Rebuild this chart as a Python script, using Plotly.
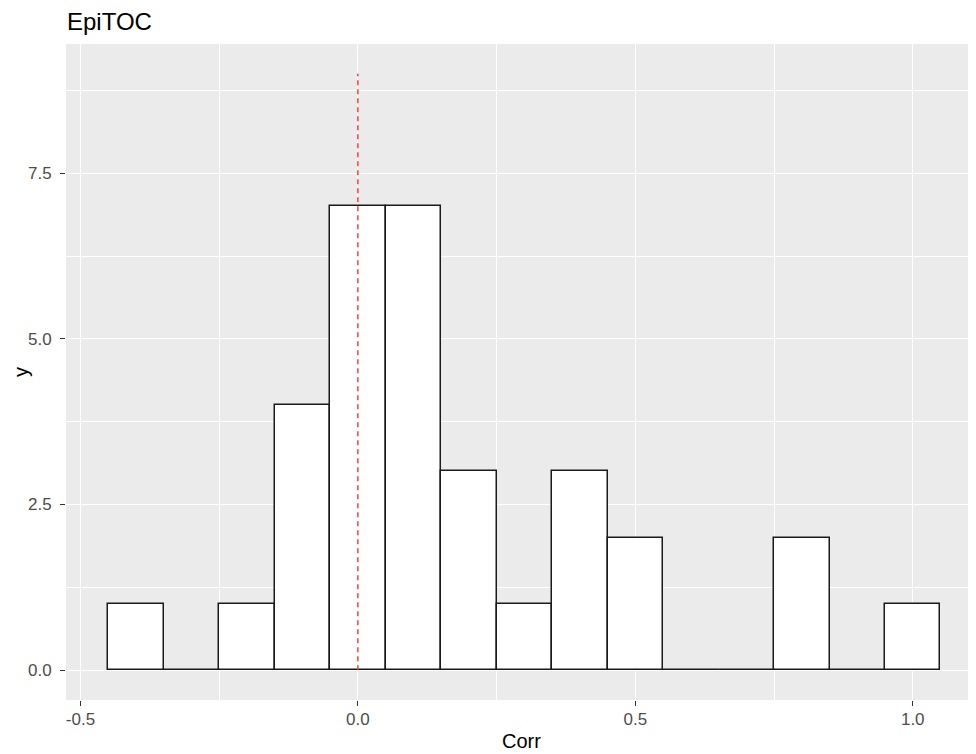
import plotly.graph_objects as go

# Histogram bins (binwidth 0.1) — centers and counts
bin_centers = [-0.4, -0.3, -0.2, -0.1, 0.0, 0.1, 0.2, 0.3, 0.4, 0.5, 0.6, 0.7, 0.8, 0.9, 1.0]
counts = [1, 0, 1, 4, 7, 7, 3, 1, 3, 2, 0, 0, 2, 0, 1]
bin_width = 0.1

# Reference line
vline_x = [0.0, 0.0]
vline_y = [0, 9]

x_ticks = [-0.5, 0.0, 0.5, 1.0]
x_ticklabels = ["-0.5", "0.0", "0.5", "1.0"]
x_minor = [-0.25, 0.25, 0.75]
y_ticks = [0, 2.5, 5.0, 7.5]
y_ticklabels = ["0.0", "2.5", "5.0", "7.5"]
y_minor = [1.25, 3.75, 6.25, 8.75]

fig = go.Figure()
fig.add_trace(go.Bar(
    x=bin_centers, y=counts, width=bin_width,
    marker=dict(color="white", line=dict(color="#1a1a1a", width=1.5)),
    showlegend=False, hoverinfo="x+y",
))
fig.add_trace(go.Scatter(
    x=vline_x, y=vline_y, mode="lines",
    line=dict(color="#FF3030", width=1.4, dash="5px,4px"),
    showlegend=False, hoverinfo="skip",
))

# page body has an 8px margin: size the figure to fill the rest of the window
fig.update_layout(
    width=968, height=746,
    margin=dict(l=58, r=0, t=36, b=54, autoexpand=False),
    paper_bgcolor="white", plot_bgcolor="#EBEBEB",
    bargap=0,
    font=dict(family="Liberation Sans, Arial, sans-serif", color="#4D4D4D"),
    title=dict(text="EpiTOC", x=0, xref="paper", xanchor="left",
               y=1, yref="container", yanchor="top", pad=dict(t=5, l=1),
               font=dict(size=24, color="black")),
    xaxis=dict(
        range=[-0.526, 1.114], tickvals=x_ticks, ticktext=x_ticklabels,
        showgrid=True, gridcolor="white", gridwidth=1.2, zeroline=False,
        ticks="outside", ticklen=5, tickcolor="#333333", tickwidth=1.1,
        tickfont=dict(size=17, color="#4D4D4D"), ticklabelstandoff=-1,
        minor=dict(tickvals=x_minor, showgrid=True, gridcolor="white", gridwidth=0.6, ticks=""),
        showline=False, automargin=False,
    ),
    yaxis=dict(
        range=[-0.45, 9.45], tickvals=y_ticks, ticktext=y_ticklabels,
        showgrid=True, gridcolor="white", gridwidth=1.2, zeroline=False,
        ticks="outside", ticklen=5, tickcolor="#333333", tickwidth=1.1,
        tickfont=dict(size=17, color="#4D4D4D"), ticklabelstandoff=5,
        minor=dict(tickvals=y_minor, showgrid=True, gridcolor="white", gridwidth=0.6, ticks=""),
        showline=False, automargin=False,
    ),
    annotations=[
        dict(text="Corr", xref="paper", yref="paper", x=0.5, y=0, xanchor="center",
             yanchor="middle", yshift=-41, showarrow=False,
             font=dict(size=20, color="black")),
        dict(text="y", xref="paper", yref="paper", x=0, y=0.5, xanchor="center",
             yanchor="middle", xshift=-45, textangle=-90, showarrow=False,
             font=dict(size=20, color="black")),
    ],
)

fig.write_html("out.html")
